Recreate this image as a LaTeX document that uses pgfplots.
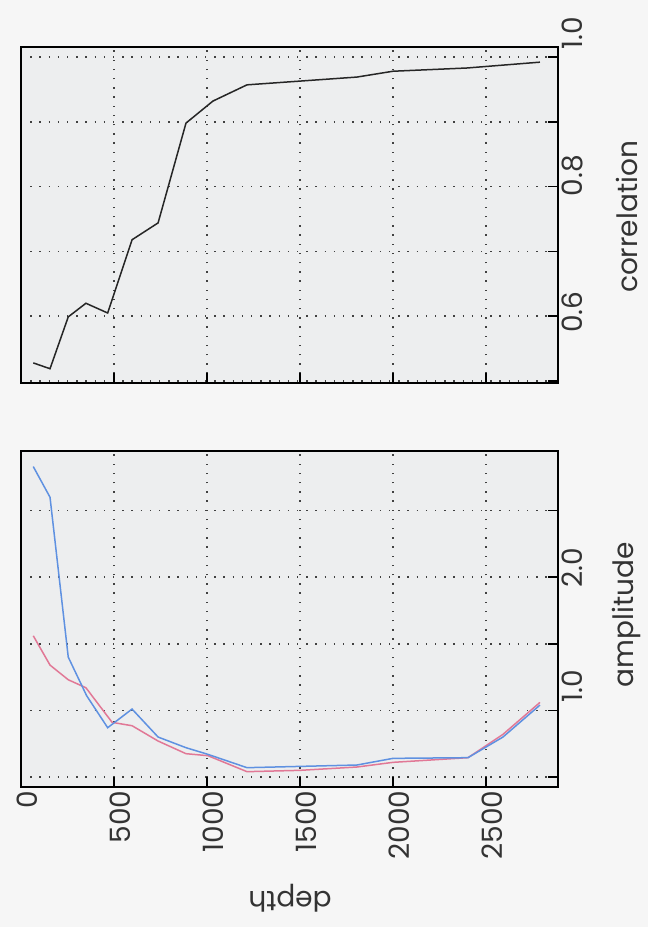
\documentclass[border=0pt]{standalone}
\usepackage{fontspec}
\setmainfont{Poppins}
\usepackage{pgfplots}
\pgfplotsset{compat=1.18}

\definecolor{ampblue}{RGB}{95,145,225}
\definecolor{ampred}{RGB}{225,120,150}
\definecolor{pagebg}{RGB}{246,246,246}
\definecolor{plotbg}{RGB}{237,238,239}

% amplitude against depth, two traces
\pgfplotstableread{
depth amp
66   2.83
156  2.60
254  1.40
353  1.11
466  0.87
597  1.01
737  0.80
887  0.72
1005 0.67
1215 0.57
1806 0.59
2000 0.64
2403 0.645
2591 0.80
2790 1.04
}\ampblue
\pgfplotstableread{
depth amp
66   1.56
156  1.34
254  1.23
349  1.17
490  0.91
597  0.885
737  0.77
887  0.675
1005 0.66
1215 0.54
1500 0.55
1806 0.575
2000 0.61
2403 0.645
2591 0.82
2790 1.06
}\ampred
% correlation against depth
\pgfplotstableread{
depth corr
66   0.528
156  0.519
254  0.599
349  0.620
466  0.605
597  0.718
737  0.744
887  0.898
1032 0.932
1215 0.957
1806 0.969
2000 0.978
2398 0.983
2790 0.992
}\corrtab

% label nudged along its reading direction by #1
\newcommand{\nudge}[2]{\hspace*{#1}#2}

\begin{document}
\begin{tikzpicture}
\fill[pagebg] (0bp,0bp) rectangle (648bp,927bp);
\pgfplotsset{
  panel/.style={
    scale only axis, width=537bp, height=336bp, anchor=south west,
    xmin=0, xmax=2887,
    xtick={0,500,1000,1500,2000,2500},
    axis background/.style={fill=plotbg},
    axis line style={line width=2.8bp, black},
    grid=major,
    major grid style={black!75, line width=1.5bp, dash pattern=on 1.4bp off 7.8bp},
    tick align=inside, xtick pos=bottom, ytick pos=right,
    yticklabel pos=right,
    major tick length=10bp,
    tick style={black, line width=1.5bp},
    ticklabel style={font=\fontsize{28bp}{34bp}\selectfont, text=black!80},
    xticklabel style={rotate=90, anchor=east, yshift=-6bp},
    yticklabel style={rotate=90, anchor=north, xshift=4bp},
  }
}

\begin{axis}[panel, at={(21bp,140bp)},
  ymin=0.425, ymax=2.947,
  ytick={0.5,1.0,1.5,2.0,2.5},
  yticklabels={,\nudge{40bp}{1.0},,\nudge{10bp}{2.0},},
  xticklabels={0,500,1000,1500,2000,2500}]
\addplot[ampred, line width=1.5bp] table[x=depth, y=amp] {\ampred};
\addplot[ampblue, line width=1.5bp] table[x=depth, y=amp] {\ampblue};
\end{axis}

\begin{axis}[panel, at={(21bp,544bp)},
  ymin=0.497, ymax=1.0154,
  ytick={0.5,0.6,0.7,0.8,0.9,1.0},
  yticklabels={,0.6,,\nudge{14bp}{0.8},,\nudge{40bp}{1.0}},
  xticklabels={}]
\addplot[black!85, line width=1.5bp] table[x=depth, y=corr] {\corrtab};
\end{axis}

\node[rotate=180, text=black!80, font=\fontsize{28bp}{34bp}\selectfont] at (290bp,29bp) {depth};
\node[rotate=90, text=black!80, font=\fontsize{28bp}{34bp}\selectfont] at (626bp,312bp) {amplitude};
\node[rotate=90, text=black!80, font=\fontsize{28bp}{34bp}\selectfont] at (627bp,710bp) {correlation};
\end{tikzpicture}
\end{document}
